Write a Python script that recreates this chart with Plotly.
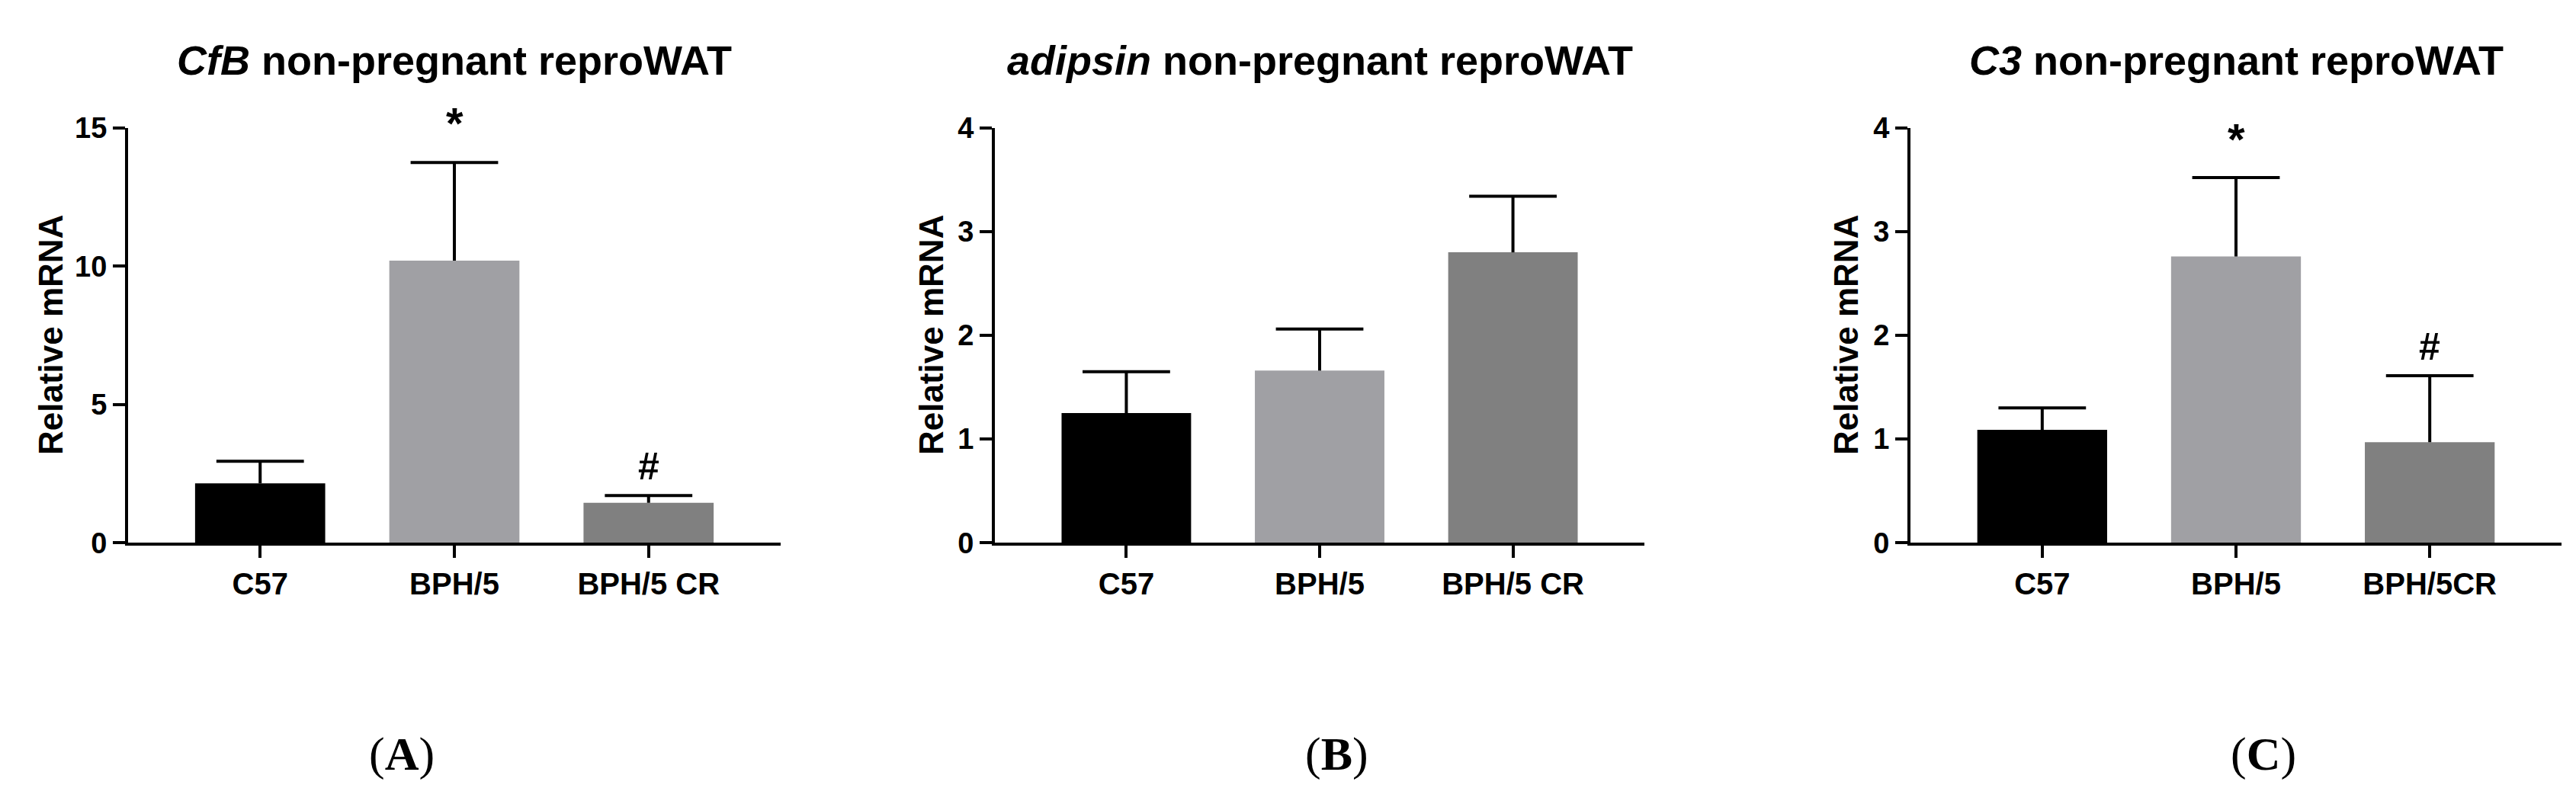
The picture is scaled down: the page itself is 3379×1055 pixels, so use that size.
import plotly.graph_objects as go

# Group labels (panel C uses "BPH/5CR" without a space)
groups_ab = ['C57', 'BPH/5', 'BPH/5 CR']
groups_c = ['C57', 'BPH/5', 'BPH/5CR']
bar_colors = ['#000000', '#a0a0a4', '#808080']

# Relative mRNA, mean and upper error (SEM)
cfb_mean = [2.15, 10.2, 1.45]
cfb_err = [0.80, 3.55, 0.26]
adipsin_mean = [1.25, 1.66, 2.80]
adipsin_err = [0.40, 0.40, 0.54]
c3_mean = [1.09, 2.76, 0.97]
c3_err = [0.21, 0.76, 0.64]

titles = ['<i>CfB</i> non-pregnant reproWAT',
          '<i>adipsin</i> non-pregnant reproWAT',
          '<i>C3</i> non-pregnant reproWAT']
letters = ['A', 'B', 'C']
y_max = [15, 4, 4]
y_step = [5, 1, 1]

# significance marks: (panel index, group index, text, height)
sig_panel = [0, 0, 2, 2]
sig_group = [1, 2, 1, 2]
sig_text = ['*', '#', '*', '#']
sig_y = [14.85, 2.64, 3.80, 1.86]

W, H = 3379, 1055
x_doms = [(160, 1016), (1297, 2149), (2498, 3352)]
y_dom = [(H - 711.6) / H, (H - 144.5) / H]
ylab_x = [58, 1213, 2413]
letter_x = [519, 1745, 2961]

font_sans = 'Liberation Sans, Arial, sans-serif'

fig = go.Figure()

means = [cfb_mean, adipsin_mean, c3_mean]
errs = [cfb_err, adipsin_err, c3_err]
cats = [groups_ab, groups_ab, groups_c]

annotations = []
for i in range(3):
    sfx = '' if i == 0 else str(i + 1)
    # bars with the vertical stem of the upper error bar (no caps)
    fig.add_trace(go.Bar(
        x=cats[i], y=means[i], xaxis='x' + sfx, yaxis='y' + sfx,
        marker=dict(color=bar_colors, line=dict(width=0)),
        width=0.67, showlegend=False,
        error_y=dict(type='data', symmetric=False, array=errs[i],
                     arrayminus=[0] * 3, color='black', thickness=4, width=0),
    ))
    # top caps only
    tops = [m + e for m, e in zip(means[i], errs[i])]
    fig.add_trace(go.Scatter(
        x=cats[i], y=tops, xaxis='x' + sfx, yaxis='y' + sfx, mode='markers',
        marker=dict(symbol='line-ew-open', size=82, color='black',
                    line=dict(width=4, color='black')),
        showlegend=False, hoverinfo='skip'))

    axis_style = dict(showline=True, linewidth=4, linecolor='black',
                      ticks='outside', ticklen=16, tickwidth=4, tickcolor='black',
                      showgrid=False, zeroline=False,
                      tickfont=dict(family=font_sans, size=40, color='black', weight='bold'))
    fig.layout['xaxis' + sfx] = dict(
        domain=[x_doms[i][0] / W, x_doms[i][1] / W], anchor='y' + sfx,
        type='category', range=[-0.68, 2.68], **axis_style)
    ystyle = dict(axis_style)
    ystyle['tickfont'] = dict(family=font_sans, size=38, color='black', weight='bold')
    fig.layout['yaxis' + sfx] = dict(
        domain=y_dom, anchor='x' + sfx, range=[0, y_max[i]],
        tickmode='linear', tick0=0, dtick=y_step[i], **ystyle)

    cx = (x_doms[i][0] + x_doms[i][1]) / 2 / W
    annotations.append(dict(
        text=titles[i], xref='paper', yref='paper', x=cx, y=1 - 52 / H,
        xanchor='center', yanchor='middle', showarrow=False,
        font=dict(family=font_sans, size=54, color='black', weight='bold')))
    annotations.append(dict(
        text='Relative mRNA', xref='paper', yref='paper', x=ylab_x[i] / W,
        y=(y_dom[0] + y_dom[1]) / 2, textangle=-90, xanchor='center',
        yanchor='middle', showarrow=False,
        font=dict(family=font_sans, size=44, color='black', weight='bold')))
    annotations.append(dict(
        text='(<b>' + letters[i] + '</b>)', xref='paper', yref='paper',
        x=letter_x[i] / W, y=1 - 1000 / H, xanchor='center', yanchor='middle',
        showarrow=False,
        font=dict(family='Liberation Serif, Times New Roman, serif', size=62, color='black')))

for p, g, t, yv in zip(sig_panel, sig_group, sig_text, sig_y):
    sfx = '' if p == 0 else str(p + 1)
    annotations.append(dict(
        text=t, xref='x' + sfx, yref='y' + sfx, x=cats[p][g], y=yv,
        xanchor='center', yanchor='middle', showarrow=False,
        yshift=12 if t == '*' else 4,
        font=dict(family=font_sans, size=58 if t == '*' else 50,
                  color='black', weight='bold')))

fig.update_layout(
    width=W, height=H,
    margin=dict(l=0, r=0, t=0, b=0),
    paper_bgcolor='white', plot_bgcolor='white',
    annotations=annotations,
)

fig.write_html("out.html")
